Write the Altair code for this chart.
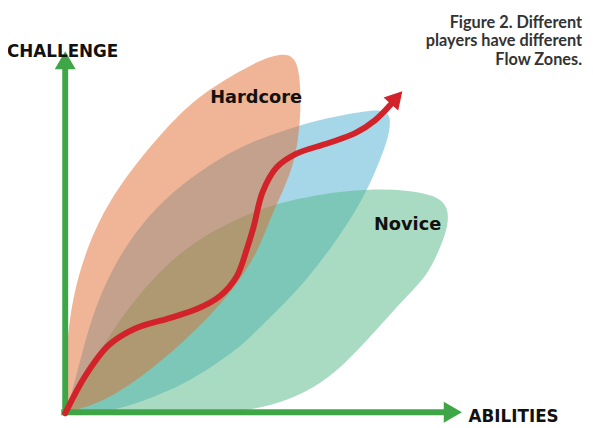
import altair as alt
import pandas as pd

# ---- data (reference pixel space: x right, y down) ----
hard_x = [66, 67, 73, 87, 110, 148, 178, 210, 260, 285, 298, 304, 305, 302, 297, 287, 275, 260, 227, 187, 143, 100, 66]
hard_y = [415, 350, 300, 250, 200, 150, 116, 88, 59, 51, 54, 70, 110, 140, 165, 190, 215, 257, 303, 343, 380, 407, 415]

blue_x = [66, 70, 80, 93, 113, 137, 165, 200, 243, 293, 333, 367, 387, 396, 395, 390, 377, 360, 338, 315, 293, 270, 250, 225, 193, 160, 127, 95, 66]
blue_y = [415, 405, 367, 317, 270, 232, 200, 172, 145, 127, 116, 110, 108, 113, 130, 147, 180, 212, 245, 275, 300, 322, 343, 362, 383, 398, 410, 416, 415]

nov_x = [66, 70, 87, 110, 137, 170, 210, 260, 290, 330, 370, 410, 442, 455, 454, 440, 430, 400, 365, 332, 299, 267, 230, 170, 66]
nov_y = [415, 413, 380, 337, 300, 263, 233, 210, 201, 193, 189, 189, 195, 207, 230, 262, 280, 310, 350, 382, 400, 410, 416, 418, 415]

flow_x = [66, 87, 110, 137, 170, 200, 223, 240, 250, 257, 266, 280, 300, 333, 360, 380, 396]
flow_y = [416, 377, 347, 330, 320, 310, 297, 277, 250, 227, 192, 167, 153, 142, 132, 119, 103]

axis_x1 = [66, 62]
axis_y1 = [418, 415]
axis_x2 = [66, 452]
axis_y2 = [64, 415]

title_lines = ["Figure 2. Different", "players have different", "Flow Zones."]
title_y = [25, 44, 63]

labels = ["CHALLENGE", "ABILITIES", "Hardcore", "Novice"]
label_x = [7, 475, 213, 379]
label_y = [55, 425, 101, 230]
label_size = [17, 17, 18, 18]

XS = alt.Scale(domain=[8, 593], nice=False, zero=False)
YS = alt.Scale(domain=[8, 428], nice=False, zero=False, reverse=True)


def X(f="x"):
    return alt.X(f"{f}:Q", scale=XS, axis=None)


def Y(f="y"):
    return alt.Y(f"{f}:Q", scale=YS, axis=None)


def blob(xs, ys, color, op):
    df = pd.DataFrame({"x": xs, "y": ys, "i": range(len(xs))})
    return alt.Chart(df).mark_line(
        fill=color, fillOpacity=op, strokeWidth=0, interpolate="basis"
    ).encode(x=X(), y=Y(), order=alt.Order("i:Q"))


blue = blob(blue_x, blue_y, "#69bcd9", 0.6)
novice = blob(nov_x, nov_y, "#53b785", 0.5)
hard = blob(hard_x, hard_y, "#e16b2f", 0.5)

GREEN = "#3fa648"
RED = "#d2232a"

axes_df = pd.DataFrame({"x": axis_x1, "y": axis_y1, "x2": axis_x2, "y2": axis_y2})
axes = alt.Chart(axes_df).mark_rule(color=GREEN, strokeWidth=6).encode(
    x=X(), y=Y(), x2="x2:Q", y2="y2:Q"
)

head_df = pd.DataFrame({"x": [66, 459], "y": [58, 415], "a": [0, 90]})
heads = alt.Chart(head_df).mark_point(
    shape="triangle-up", filled=True, color=GREEN, opacity=1, size=450
).encode(x=X(), y=Y(), angle=alt.Angle("a:Q", scale=None))

flow_df = pd.DataFrame({"x": flow_x, "y": flow_y, "i": range(len(flow_x))})
flow = alt.Chart(flow_df).mark_line(
    color=RED, strokeWidth=6, interpolate="catmull-rom", strokeCap="round"
).encode(x=X(), y=Y(), order=alt.Order("i:Q"))

rhead_df = pd.DataFrame({"x": [402], "y": [96], "a": [42]})
rhead = alt.Chart(rhead_df).mark_point(
    shape="triangle-up", filled=True, color=RED, opacity=1, size=400
).encode(x=X(), y=Y(), angle=alt.Angle("a:Q", scale=None))

lab_df = pd.DataFrame({"t": labels, "x": label_x, "y": label_y, "s": label_size})
labs = alt.Chart(lab_df).mark_text(
    align="left", baseline="alphabetic", font="DejaVu Sans", fontWeight="bold", color="#111111"
).encode(x=X(), y=Y(), text="t:N", size=alt.Size("s:Q", scale=None))

tit_df = pd.DataFrame({"t": title_lines, "y": title_y, "x": [590] * 3})
tit = alt.Chart(tit_df).mark_text(
    align="right", baseline="alphabetic", font="Lato", fontWeight="bold",
    fontSize=16.5, color="#333333"
).encode(x=X(), y=Y(), text="t:N")

chart = alt.layer(blue, novice, hard, axes, heads, flow, rhead, labs, tit).properties(
    width=585, height=420, padding=0, autosize=alt.AutoSizeParams(type="none"),
    background="white"
).configure_view(stroke=None)

chart.save("out.html", embed_options={"renderer": "svg", "actions": False})
